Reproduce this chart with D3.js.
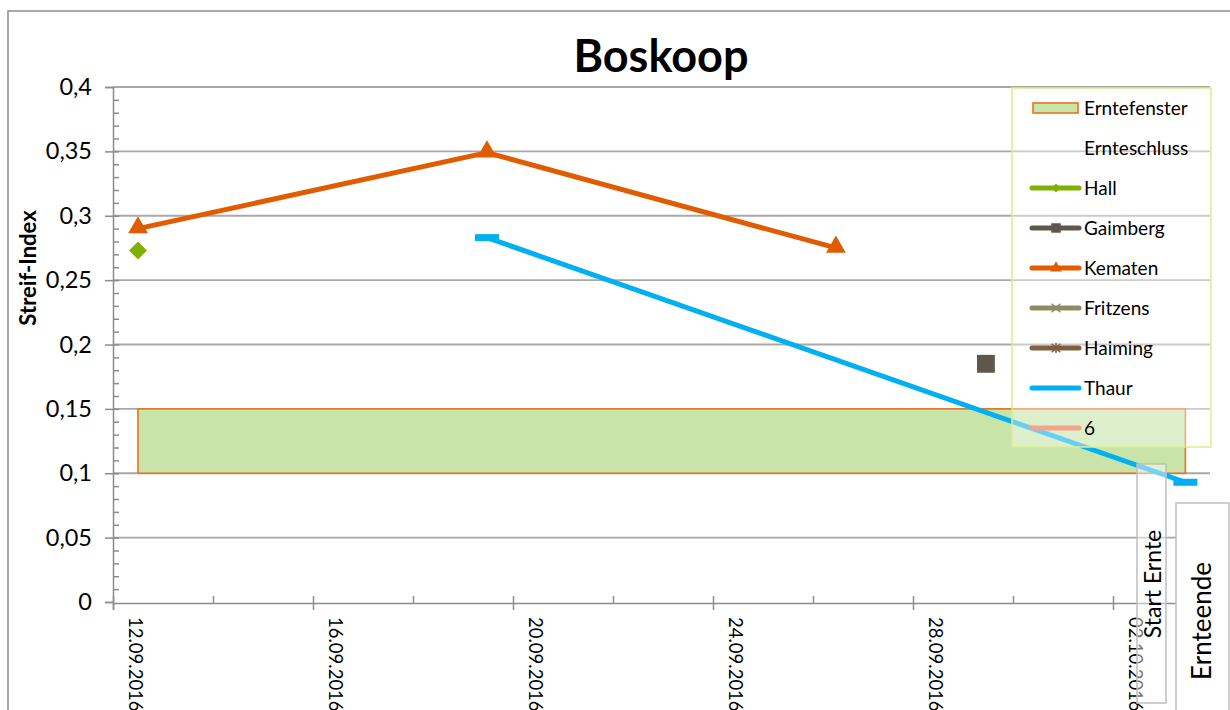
<!DOCTYPE html>
<html>
<head>
<meta charset="utf-8">
<script src="https://cdn.jsdelivr.net/npm/d3@7"></script>
<style>
  body { margin: 0; background: #fff; }
  text { font-family: Lato, 'Open Sans', sans-serif; fill: #000; }
</style>
</head>
<body>
<script>
// values
const xTickLabels = ['12.09.2016', '16.09.2016', '20.09.2016', '24.09.2016', '28.09.2016', '02.10.2016']
const xMinorLabels = ['14.09.2016', '18.09.2016', '22.09.2016', '26.09.2016', '30.09.2016']
const yTicks = [0, 0.05, 0.1, 0.15, 0.2, 0.25, 0.3, 0.35, 0.4]

const hallDates = ['12.09.2016 12:00']
const hallValues = [0.273]
const gaimbergDates = ['29.09.2016 11:00']
const gaimbergValues = [0.185]
const kematenDates = ['12.09.2016 12:00', '19.09.2016 11:30', '26.09.2016 11:00']
const kematenValues = [0.29, 0.349, 0.275]
const thaurDates = ['19.09.2016 11:30', '03.10.2016 10:45']
const thaurValues = [0.283, 0.093]

const fensterDates = ['12.09.2016 12:00', '03.10.2016 10:45']
const fensterValues = [0.1, 0.15]

const legendNames = ['Erntefenster', 'Ernteschluss', 'Hall', 'Gaimberg', 'Kematen', 'Fritzens', 'Haiming', 'Thaur', '6']
const legendColors = [null, null, '#80b000', '#5f574b', '#e15b00', '#8c8b63', '#7f5f3d', '#00b0f0', '#f6a38c']

const parseDay = d3.timeParse('%d.%m.%Y')
const parseTime = d3.timeParse('%d.%m.%Y %H:%M')
const fmt = d3.formatLocale({ decimal: ',', thousands: '.', grouping: [3], currency: ['', '€'] }).format('~g')

let svg = d3
  .select('body')
  .append('svg')
  .attr('width', 1230)
  .attr('height', 710)

let x = d3
  .scaleTime()
  .domain([parseDay('12.09.2016'), parseDay('04.10.2016')])
  .range([113, 1213])

let y = d3
  .scaleLinear()
  .domain([0, 0.4])
  .range([602, 87])

// outer frame
svg.append('rect')
  .attr('x', 8)
  .attr('y', 11)
  .attr('width', 1240)
  .attr('height', 720)
  .attr('fill', 'none')
  .attr('stroke', '#8c8c8c')
  .attr('stroke-width', 1.5)

svg.append('text')
  .attr('x', 661)
  .attr('y', 72)
  .attr('text-anchor', 'middle')
  .style('font-size', '45px')
  .style('font-weight', 'bold')
  .text('Boskoop')

// gridlines
svg.append('g')
  .selectAll('line')
  .data(yTicks.slice(1))
  .join('line')
  .attr('x1', 113)
  .attr('x2', 1210)
  .attr('y1', (d) => y(d))
  .attr('y2', (d) => y(d))
  .attr('stroke', '#a8a8a8')
  .attr('stroke-width', 1.8)

// y axis
let yAxis = svg.append('g')
  .attr('transform', 'translate(113,0)')
  .call(d3.axisLeft(y).tickValues(yTicks).tickFormat(fmt).tickSize(8).tickPadding(13))

let yMinor = svg.append('g')
  .attr('transform', 'translate(113,0)')
  .call(d3.axisRight(y).tickValues(d3.range(1, 40).map((i) => i / 100)).tickFormat('').tickSize(6))

yMinor.select('.domain').remove()

// x axis
let xAxis = svg.append('g')
  .attr('transform', 'translate(0,603)')
  .call(d3.axisBottom(x).tickValues(xTickLabels.map(parseDay)).tickFormat(d3.timeFormat('%d.%m.%Y')).tickSize(7))

let xUp = svg.append('g')
  .attr('transform', 'translate(0,603)')
  .call(d3.axisTop(x).tickValues(xTickLabels.map(parseDay).concat(xMinorLabels.map(parseDay))).tickFormat('').tickSize(7))

xUp.select('.domain').remove()

svg.selectAll('.domain, .tick line')
  .attr('stroke', '#8c8c8c')
  .attr('stroke-width', 1.5)

yAxis.selectAll('.tick text')
  .style('font-size', '23.5px')
  .attr('fill', '#000')

xAxis.selectAll('.tick text')
  .style('font-size', '18.5px')
  .attr('fill', '#000')
  .attr('text-anchor', 'start')
  .attr('transform', 'rotate(90)')
  .attr('x', 14)
  .attr('y', -22)
  .attr('dy', '0.35em')

svg.append('text')
  .attr('transform', 'translate(36,268) rotate(-90)')
  .attr('text-anchor', 'middle')
  .style('font-size', '22px')
  .style('font-weight', 'bold')
  .text('Streif-Index')

// Erntefenster
svg.append('rect')
  .attr('x', x(parseTime(fensterDates[0])))
  .attr('y', y(fensterValues[1]))
  .attr('width', x(parseTime(fensterDates[1])) - x(parseTime(fensterDates[0])))
  .attr('height', y(fensterValues[0]) - y(fensterValues[1]))
  .attr('fill', '#c8e4a8')
  .attr('stroke', '#e8731c')
  .attr('stroke-width', 1.6)

const toPoints = (dates, values) => dates.map((d, i) => [x(parseTime(d)), y(values[i])])

let line = d3.line()

const kematen = toPoints(kematenDates, kematenValues)
const thaur = toPoints(thaurDates, thaurValues)

svg.append('path')
  .attr('d', line(kematen))
  .attr('fill', 'none')
  .attr('stroke', '#e15b00')
  .attr('stroke-width', 5)
  .attr('stroke-linejoin', 'round')

svg.append('path')
  .attr('d', line(thaur))
  .attr('fill', 'none')
  .attr('stroke', '#00b0f0')
  .attr('stroke-width', 5)

svg.append('g')
  .selectAll('rect')
  .data(thaur)
  .join('rect')
  .attr('x', (d) => d[0] - 12)
  .attr('y', (d) => d[1] - 3.5)
  .attr('width', 24)
  .attr('height', 7)
  .attr('fill', '#00b0f0')

svg.append('g')
  .selectAll('path')
  .data(kematen)
  .join('path')
  .attr('d', d3.symbol().type(d3.symbolTriangle).size(170))
  .attr('transform', (d) => `translate(${d[0]},${d[1] - 1})`)
  .attr('fill', '#e15b00')

svg.append('g')
  .selectAll('path')
  .data(toPoints(hallDates, hallValues))
  .join('path')
  .attr('d', d3.symbol().type(d3.symbolSquare).size(160))
  .attr('transform', (d) => `translate(${d[0]},${d[1]}) rotate(45)`)
  .attr('fill', '#80b000')

svg.append('g')
  .selectAll('path')
  .data(toPoints(gaimbergDates, gaimbergValues))
  .join('path')
  .attr('d', d3.symbol().type(d3.symbolSquare).size(320))
  .attr('transform', (d) => `translate(${d[0]},${d[1]})`)
  .attr('fill', '#5f574b')

// legend
let legend = svg.append('g')

legend.append('rect')
  .attr('x', 1012)
  .attr('y', 88)
  .attr('width', 199)
  .attr('height', 359)
  .attr('fill', 'rgba(255,255,255,0.4)')
  .attr('stroke', '#d8f08c')
  .attr('stroke-width', 1.5)

let items = legend
  .selectAll('g')
  .data(legendNames)
  .join('g')
  .attr('transform', (d, i) => `translate(0,${108 + i * 40})`)

items.append('text')
  .attr('x', 1084)
  .attr('dy', '0.35em')
  .style('font-size', '19px')
  .attr('fill', '#1a1a1a')
  .text((d) => d)

items.filter((d, i) => i === 0)
  .append('rect')
  .attr('x', 1033)
  .attr('y', -5)
  .attr('width', 45)
  .attr('height', 10)
  .attr('fill', '#c8e4a8')
  .attr('stroke', '#e8731c')
  .attr('stroke-width', 1.6)

items.filter((d, i) => i > 1)
  .append('line')
  .attr('x1', 1032)
  .attr('x2', 1079)
  .attr('stroke', (d, i) => legendColors[i + 2])
  .attr('stroke-width', 5)
  .attr('stroke-linecap', 'round')

const legendMarks = [null, null, 'diamond', 'square', 'triangle', 'x', 'star', null, null]

items.each(function (d, i) {
  let g = d3.select(this)
  let c = legendColors[i]
  if (legendMarks[i] === 'diamond') {
    g.append('path').attr('d', d3.symbol().type(d3.symbolSquare).size(40)).attr('transform', 'translate(1056,0) rotate(45)').attr('fill', c)
  } else if (legendMarks[i] === 'square') {
    g.append('path').attr('d', d3.symbol().type(d3.symbolSquare).size(90)).attr('transform', 'translate(1056,0)').attr('fill', c)
  } else if (legendMarks[i] === 'triangle') {
    g.append('path').attr('d', d3.symbol().type(d3.symbolTriangle).size(60)).attr('transform', 'translate(1056,0)').attr('fill', c)
  } else if (legendMarks[i] === 'x' || legendMarks[i] === 'star') {
    g.append('path').attr('d', d3.symbol().type(d3.symbolX).size(50)).attr('transform', 'translate(1056,0)').attr('stroke', c).attr('stroke-width', 1.5)
    if (legendMarks[i] === 'star') {
      g.append('line').attr('x1', 1056).attr('x2', 1056).attr('y1', -5).attr('y2', 5).attr('stroke', c).attr('stroke-width', 1.5)
    }
  }
})

// annotation boxes
svg.append('rect')
  .attr('x', 1137)
  .attr('y', 464)
  .attr('width', 29)
  .attr('height', 239)
  .attr('fill', 'rgba(255,255,255,0.45)')
  .attr('stroke', '#bfbfbf')
  .attr('stroke-width', 1.5)

svg.append('text')
  .attr('transform', 'translate(1153,584) rotate(-90)')
  .attr('text-anchor', 'middle')
  .attr('dy', '0.35em')
  .style('font-size', '23px')
  .text('Start Ernte')

svg.append('rect')
  .attr('x', 1176)
  .attr('y', 503)
  .attr('width', 53)
  .attr('height', 210)
  .attr('fill', '#fff')
  .attr('stroke', '#bfbfbf')
  .attr('stroke-width', 1.5)

svg.append('text')
  .attr('transform', 'translate(1202,621) rotate(-90)')
  .attr('text-anchor', 'middle')
  .attr('dy', '0.35em')
  .style('font-size', '26px')
  .text('Ernteende')
</script>
</body>
</html>
